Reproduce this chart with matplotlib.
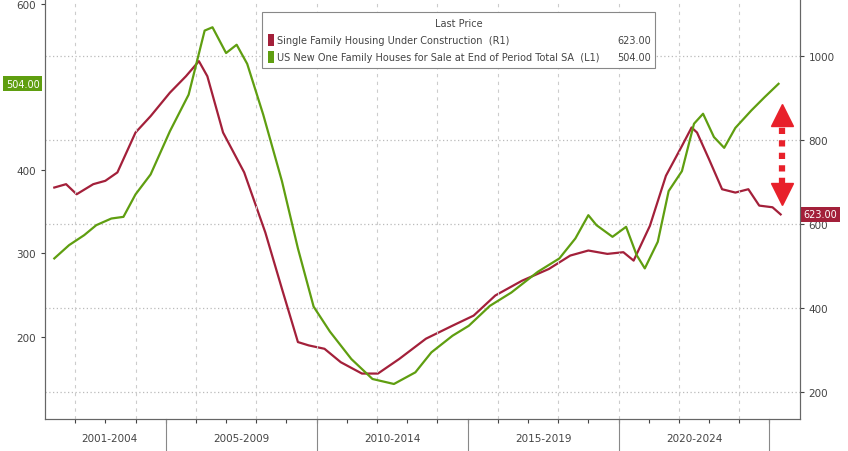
import matplotlib
matplotlib.use("Agg")
import matplotlib.pyplot as plt
import numpy as np

g_year = [2001.31,2001.8,2002.3,2002.7,2003.2,2003.6,2004.0,2004.5,2005.14,2005.76,2006.29,2006.55,2007.0,2007.35,2007.7,2008.23,2008.85,2009.38,2009.9,2010.44,2011.15,2011.85,2012.56,2013.27,2013.8,2014.5,2015.04,2015.74,2016.45,2017.33,2018.04,2018.57,2019.0,2019.27,2019.8,2020.25,2020.6,2020.87,2021.3,2021.66,2022.1,2022.5,2022.8,2023.16,2023.5,2023.87,2024.4,2024.84,2025.3]
g_val = [294,310,322,334,342,344,371,395,447,491,568,572,541,551,528,467,387,306,236,206,173,149,143,157,181,201,213,237,253,278,294,318,346,334,320,332,298,282,314,375,399,456,468,440,427,451,472,488,504]
r_year = [2001.31,2001.7,2002.05,2002.6,2003.0,2003.4,2004.0,2004.5,2005.14,2005.67,2006.1,2006.38,2006.9,2007.6,2008.3,2008.85,2009.38,2009.74,2010.26,2010.8,2011.5,2012.03,2012.74,2013.62,2014.5,2015.2,2015.92,2016.8,2017.69,2018.4,2019.0,2019.63,2020.16,2020.5,2021.04,2021.57,2022.1,2022.42,2022.6,2023.0,2023.43,2023.87,2024.3,2024.66,2025.1,2025.37]
r_val = [687,695,671,695,703,723,818,857,913,952,988,952,818,723,580,446,319,311,303,271,244,244,279,327,358,382,430,465,493,525,537,529,533,513,596,715,786,830,818,754,683,675,683,644,640,623]
period_labels = ["2001-2004","2005-2009","2010-2014","2015-2019","2020-2024"]
period_bounds = [2001.3,2005,2010,2015,2020,2025]
left_ticks = [200,300,400,600]
right_ticks = [200,400,600,800,1000]

RED = "#a3203a"; GREEN = "#5f9e10"; TXT = "#444444"; ARW = "#e8202a"
fig = plt.figure(figsize=(8.48,4.52), dpi=100)
ax = fig.add_axes([0.053,0.071,0.89,0.929])
ax2 = ax.twinx()
ax.set_xlim(2001.0,2026.0)
ax.set_ylim(101,606)
ax2.set_ylim(136,1136)

for yv in right_ticks:
    ax2.axhline(yv, color="#bbbbbb", ls=(0,(1,2)), lw=0.9, zorder=0)
for yr in range(2002,2026,2):
    ax.axvline(yr, color="#cccccc", ls=(0,(3,4)), lw=0.8, zorder=0)

ax2.plot(r_year, r_val, color=RED, lw=1.6, zorder=3)
ax.plot(g_year, g_val, color=GREEN, lw=1.6, zorder=4)
ax.set_zorder(ax2.get_zorder()+1); ax.patch.set_visible(False)

ax.set_yticks(left_ticks); ax2.set_yticks(right_ticks)
for a in (ax, ax2):
    a.tick_params(labelsize=7.5, colors=TXT, length=3)
    for s in a.spines.values(): s.set_color("#666666")
ax.spines['top'].set_visible(False); ax2.spines['top'].set_visible(False)
ax.set_xticks(range(2002,2026)); ax.set_xticklabels([])
ax.tick_params(axis='x', length=3)
for i,lab in enumerate(period_labels):
    c = (period_bounds[i]+period_bounds[i+1])/2
    ax.text(c, -0.045, lab, transform=ax.get_xaxis_transform(), ha='center', va='center', fontsize=7.5, color=TXT)
for b in period_bounds[1:]:
    ax.plot([b,b],[0,-0.08], transform=ax.get_xaxis_transform(), color="#888888", lw=0.8, clip_on=False)

# value tags
ax.text(-0.007, 504, "504.00", transform=ax.get_yaxis_transform(), ha='right', va='center', fontsize=7,
        color='white', bbox=dict(boxstyle='square,pad=0.25', fc=GREEN, ec='none'))
ax2.text(1.005, 623, "623.00", transform=ax2.get_yaxis_transform(), ha='left', va='center', fontsize=7,
        color='white', bbox=dict(boxstyle='square,pad=0.25', fc=RED, ec='none'), zorder=10)

# dashed double arrow
ax.plot([2025.4,2025.4],[383,456], color=ARW, lw=4.5, ls=(0,(1.0,1.0)), solid_capstyle='butt', zorder=6)
ax.plot([2025.4],[466], marker='^', ms=16, color=ARW, zorder=6)
ax.plot([2025.4],[372], marker='v', ms=16, color=ARW, zorder=6)

# legend box
lx0, ly0, lw_, lh = 0.288, 0.835, 0.52, 0.135
ax.add_patch(plt.Rectangle((lx0,ly0), lw_, lh, transform=ax.transAxes, fc='white', ec='#888888', lw=0.8, zorder=20))
ax.text(lx0+lw_/2, ly0+lh-0.028, "Last Price", transform=ax.transAxes, ha='center', va='center', fontsize=7, color=TXT, zorder=21)
rows = [("Single Family Housing Under Construction  (R1)", "623.00", RED),
        ("US New One Family Houses for Sale at End of Period Total SA  (L1)", "504.00", GREEN)]
for k,(t,v,c) in enumerate(rows):
    yy = ly0+lh-0.068-k*0.04
    ax.add_patch(plt.Rectangle((lx0+0.008, yy-0.014), 0.008, 0.028, transform=ax.transAxes, fc=c, ec='none', zorder=21))
    ax.text(lx0+0.02, yy, t, transform=ax.transAxes, ha='left', va='center', fontsize=7, color=TXT, zorder=21)
    ax.text(lx0+lw_-0.005, yy, v, transform=ax.transAxes, ha='right', va='center', fontsize=7, color=TXT, zorder=21)

fig.savefig("out.png", dpi=100)
